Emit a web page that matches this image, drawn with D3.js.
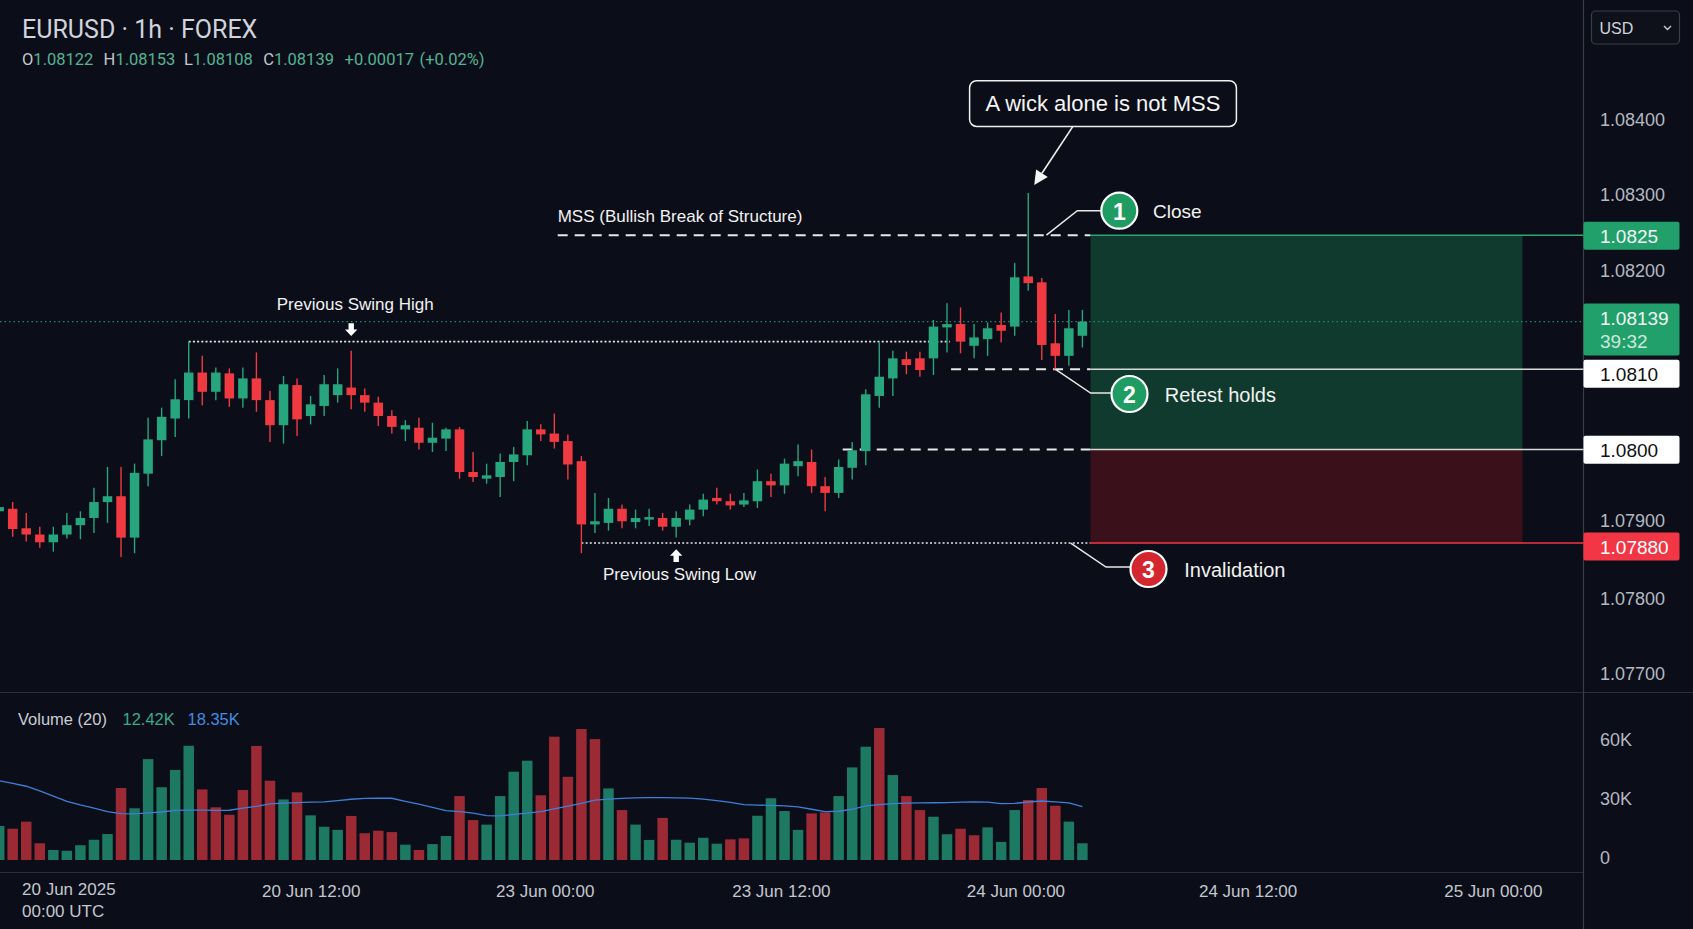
<!DOCTYPE html>
<html><head><meta charset="utf-8">
<script src="https://cdn.jsdelivr.net/npm/d3@7"></script>
<style>html,body{margin:0;padding:0;background:#0b0e18;overflow:hidden}</style>
</head><body>
<svg id="c" width="1693" height="929"></svg>
<script>
// ---------------- DATA ----------------
const opens  = [1.07912,1.07915,1.07891,1.07883,1.07873,1.07883,1.07895,1.07904,1.07923,1.07930,
 1.07879,1.07957,1.07997,1.08023,1.08045,1.08078,1.08055,1.08077,1.08047,1.08071,
 1.08045,1.08015,1.08063,1.08026,1.08038,1.08051,1.08060,1.08051,1.08042,1.08026,
 1.08010,1.08012,1.07994,1.07999,1.08010,1.07959,1.07951,1.07953,1.07971,1.07979,
 1.08010,1.08005,1.07996,1.07972,1.07896,1.07898,1.07915,1.07899,1.07902,1.07904,
 1.07893,1.07902,1.07914,1.07928,1.07924,1.07920,1.07924,1.07948,1.07943,1.07966,
 1.07971,1.07942,1.07934,1.07964,1.07984,1.08050,1.08071,1.08094,1.08095,1.08095,
 1.08132,1.08136,1.08110,1.08118,1.08135,1.08133,1.08193,1.08186,1.08113,1.08098,1.08122];
const highs  = [1.07937,1.07923,1.07910,1.07893,1.07893,1.07910,1.07912,1.07940,1.07965,1.07965,
 1.07969,1.08024,1.08036,1.08070,1.08115,1.08098,1.08084,1.08083,1.08084,1.08102,
 1.08056,1.08074,1.08071,1.08050,1.08075,1.08083,1.08104,1.08059,1.08049,1.08033,
 1.08021,1.08024,1.08018,1.08012,1.08013,1.07983,1.07969,1.07981,1.07989,1.08020,
 1.08016,1.08029,1.08004,1.07978,1.07934,1.07928,1.07920,1.07914,1.07915,1.07910,
 1.07912,1.07920,1.07933,1.07940,1.07933,1.07934,1.07962,1.07957,1.07975,1.07992,
 1.07986,1.07953,1.07974,1.07995,1.08058,1.08114,1.08104,1.08103,1.08103,1.08141,
 1.08161,1.08156,1.08136,1.08138,1.08150,1.08210,1.08303,1.08191,1.08148,1.08153,1.08153];
const lows   = [1.07902,1.07880,1.07874,1.07866,1.07861,1.07878,1.07877,1.07885,1.07898,1.07854,
 1.07859,1.07942,1.07978,1.08001,1.08023,1.08039,1.08045,1.08037,1.08036,1.08031,
 1.07995,1.07993,1.08002,1.08016,1.08026,1.08042,1.08034,1.08031,1.08014,1.08005,
 1.07996,1.07986,1.07983,1.07984,1.07951,1.07947,1.07945,1.07929,1.07948,1.07967,
 1.07996,1.07987,1.07950,1.07859,1.07885,1.07888,1.07891,1.07891,1.07894,1.07888,
 1.07879,1.07895,1.07906,1.07920,1.07914,1.07917,1.07916,1.07929,1.07933,1.07954,
 1.07934,1.07912,1.07928,1.07950,1.07967,1.08036,1.08050,1.08076,1.08073,1.08075,
 1.08102,1.08101,1.08095,1.08098,1.08114,1.08122,1.08176,1.08093,1.08081,1.08086,1.08108];
const closes = [1.07917,1.07890,1.07883,1.07873,1.07883,1.07895,1.07904,1.07923,1.07930,1.07879,
 1.07958,1.07998,1.08025,1.08046,1.08078,1.08055,1.08078,1.08047,1.08071,1.08045,
 1.08015,1.08064,1.08022,1.08040,1.08064,1.08064,1.08051,1.08042,1.08026,1.08013,
 1.08015,1.07994,1.08000,1.08010,1.07959,1.07953,1.07955,1.07971,1.07980,1.08010,
 1.08004,1.07995,1.07968,1.07896,1.07900,1.07915,1.07900,1.07904,1.07905,1.07893,
 1.07904,1.07914,1.07926,1.07924,1.07919,1.07925,1.07948,1.07943,1.07969,1.07972,
 1.07942,1.07934,1.07965,1.07985,1.08052,1.08073,1.08095,1.08087,1.08081,1.08133,
 1.08136,1.08115,1.08120,1.08131,1.08128,1.08192,1.08185,1.08111,1.08098,1.08131,1.08139];
// volume in thousands
const volumes = [17.3,15.9,19.5,8.5,5.1,4.7,7.5,10.3,13.2,36.6,
 26.3,51.3,37.0,45.8,58.1,35.9,26.8,23.0,35.6,58.0,
 40.3,30.8,34.4,22.7,16.9,15.3,22.4,13.6,14.9,14.2,
 7.8,5.1,8.1,12.2,32.5,20.3,18.0,32.5,44.9,50.5,
 32.9,62.7,42.3,66.6,61.5,36.4,25.4,18.0,10.2,21.4,
 10.3,8.8,11.3,8.3,10.5,11.0,22.5,31.4,24.9,15.3,
 23.7,24.2,32.5,47.1,57.6,67.1,43.2,32.5,25.4,22.0,
 13.1,15.9,12.6,16.6,9.2,25.4,30.5,36.6,27.6,19.5,8.5];
const volumeUp = [1,0,0,0,1,1,1,1,1,0, 1,1,1,1,1,0,0,0,0,0, 0,1,0,1,1,1,0,0,0,0,
 1,0,1,1,0,0,1,1,1,1, 0,0,0,0,0,1,0,1,1,0, 1,1,1,1,0,0,1,1,1,1,
 0,0,1,1,1,0,1,0,0,1, 1,0,0,1,1,1,0,0,0,1,1];
const volumeMA = [40.3,39,37.5,35.2,32.5,29.8,28,26.4,24.6,23.6,
 23.5,24,24.4,25.2,25.4,25.4,25.2,25.3,26.4,27.3,
 28.5,28.9,29.2,29.4,29.6,30.2,30.9,31.3,31.4,31.4,
 29.8,28.4,26.8,25.1,24.6,23.8,22.6,22.4,23.2,23.8,
 24.6,26,27.4,28.8,30.4,31,31.3,31.6,31.7,31.7,
 31.6,31.5,31,30.2,29.3,28.2,27.9,27.8,27.5,27,
 25.8,24.6,24.8,25.8,27.5,28.2,28.7,28.9,29,29.1,
 29.2,29.4,29.6,29.4,28.7,28.8,29.5,30,29.6,29.1,27.2];

const priceTicks = [1.084,1.083,1.082,1.079,1.078,1.077];
const volumeTicks = [60,30,0];
const volumeTickLabels = ["60K","30K","0"];
const timeTickIndex = [23.05,40.33,57.77,75.09,92.24,110.35];
const timeTickLabels = ["20 Jun 12:00","23 Jun 00:00","23 Jun 12:00","24 Jun 00:00","24 Jun 12:00","25 Jun 00:00"];
const firstTimeLabel = ["20 Jun 2025","00:00 UTC"];

// structure levels
const levelValues = [1.08247,1.08082,1.07986,1.07872];
const levelLabels = ["1.0825","1.0810","1.0800","1.07880"];
const levelStartIndex = [41.25,70.3,62.3,43];
const zoneIndex = [80.6,112.5];
const swingHighIndex = 14, swingHighEnd = 70.2, swingHighMarker = 26;
const swingLowMarker = 50;
const wickIndex = 76;
const stepNames = ["Close","Retest holds","Invalidation"];
const countdown = "39:32";

// ---------------- DRAW ----------------
const W = 1693, H = 929, AX = 1583.5;
const F = "'Liberation Sans', Arial, sans-serif";
const FR = "Roboto, 'Liberation Sans', sans-serif";
const UP = '#27a57c', DN = '#f03a42', BG = '#0b0e18';
const svg = d3.select('#c');
svg.append('rect').attr('width',W).attr('height',H).attr('fill',BG);

const x = d3.scaleLinear().domain([0,80]).range([-0.84,1082.4]);
const y = d3.scaleLinear().domain([1.077,1.078,1.079,1.082,1.083,1.084])
  .range([674.4,599,521.3,270.6,195.2,119.8]);
const yv = d3.scaleLinear().domain([0,60]).range([860,742]);

const n = opens.length;
const candles = d3.range(n).map(i=>({i,o:opens[i],h:highs[i],l:lows[i],c:closes[i]}));
const last = candles[n-1];

// pane separators
svg.append('line').attr('x1',0).attr('x2',W).attr('y1',692.5).attr('y2',692.5).attr('stroke','#2c303b').attr('stroke-width',1.2);
svg.append('line').attr('x1',0).attr('x2',AX).attr('y1',872.5).attr('y2',872.5).attr('stroke','#2c303b').attr('stroke-width',1.2);
svg.append('line').attr('x1',AX).attr('x2',AX).attr('y1',0).attr('y2',H).attr('stroke','#3a3e49').attr('stroke-width',1.2);

// zones
const zx0 = x(zoneIndex[0]), zx1 = x(zoneIndex[1]);
svg.append('rect').attr('x',zx0).attr('width',zx1-zx0).attr('y',y(levelValues[0]))
  .attr('height',y(levelValues[2])-y(levelValues[0])).attr('fill','#0f3a2d');
svg.append('rect').attr('x',zx0).attr('width',zx1-zx0).attr('y',y(levelValues[2]))
  .attr('height',y(levelValues[3])-y(levelValues[2])).attr('fill','#3a111a');

// current price dotted line
svg.append('line').attr('x1',0).attr('x2',AX).attr('y1',y(last.c)).attr('y2',y(last.c))
  .attr('stroke','#1f8c70').attr('stroke-width',1.2).attr('stroke-dasharray','1.5,3');

// swing high dotted line
svg.append('line').attr('x1',x(swingHighIndex)).attr('x2',x(swingHighEnd))
  .attr('y1',y(highs[swingHighIndex])).attr('y2',y(highs[swingHighIndex]))
  .attr('stroke','#e6e6e6').attr('stroke-width',1.6).attr('stroke-dasharray','2,2.2');

// level lines: dashed/dotted portion + solid portion to axis
const solidColors = ['#2aa673','#d9d9d9','#d9d9d9','#f23645'];
levelValues.forEach((v,k)=>{
  const yy = y(v);
  svg.append('line').attr('x1',x(levelStartIndex[k])).attr('x2',zx0).attr('y1',yy).attr('y2',yy)
    .attr('stroke','#e8e8e8').attr('stroke-width',k===3?1.6:2)
    .attr('stroke-dasharray',k===3?'2,2.2':'10,7');
  svg.append('line').attr('x1',zx0).attr('x2',AX).attr('y1',yy).attr('y2',yy)
    .attr('stroke',solidColors[k]).attr('stroke-width',1.5);
});

// candles
const cg = svg.append('g');
cg.selectAll('line').data(candles).join('line')
  .attr('x1',d=>x(d.i)).attr('x2',d=>x(d.i)).attr('y1',d=>y(d.h)).attr('y2',d=>y(d.l))
  .attr('stroke',d=>d.i===wickIndex?UP:(d.c>=d.o?UP:DN)).attr('stroke-width',1.4);
cg.selectAll('rect').data(candles).join('rect')
  .attr('x',d=>x(d.i)-4.75).attr('width',9.5)
  .attr('y',d=>y(Math.max(d.o,d.c)))
  .attr('height',d=>Math.max(1.5,Math.abs(y(d.o)-y(d.c))))
  .attr('fill',d=>d.c>=d.o?UP:DN);

// volume bars
const vg = svg.append('g');
vg.selectAll('rect').data(volumes).join('rect')
  .attr('x',(v,i)=>x(i)-5.25).attr('width',10.5)
  .attr('y',v=>yv(v)).attr('height',v=>yv(0)-yv(v))
  .attr('fill',(v,i)=>volumeUp[i]?'#1d7962':'#9b2a34');
svg.append('path').datum(volumeMA)
  .attr('d',d3.line().x((v,i)=>x(i)).y(v=>yv(v)))
  .attr('fill','none').attr('stroke','#3f7fd8').attr('stroke-width',1.3);

// ---------- annotations ----------
const txt = (xx,yy,s,size,fill,anchor,fam)=>svg.append('text').attr('x',xx).attr('y',yy)
  .attr('font-family',fam||F).attr('font-size',size).attr('fill',fill)
  .attr('text-anchor',anchor||'start').text(s);

txt(x(levelStartIndex[0]),221.5,'MSS (Bullish Break of Structure)',17,'#f2f2f2');

// Previous swing high
const shx = x(swingHighMarker);
txt(shx+4,310,'Previous Swing High',17,'#f2f2f2','middle');
svg.append('path').attr('fill','#ffffff').attr('d',
  `M${shx-2.7},323.3L${shx+2.7},323.3L${shx+2.7},329.5L${shx+6.2},329.5L${shx},336L${shx-6.2},329.5L${shx-2.7},329.5Z`);
// Previous swing low
const slx = x(swingLowMarker);
txt(slx+3.3,580,'Previous Swing Low',17,'#f2f2f2','middle');
svg.append('path').attr('fill','#ffffff').attr('d',
  `M${slx-2.7},562L${slx+2.7},562L${slx+2.7},555.8L${slx+6.2},555.8L${slx},549.3L${slx-6.2},555.8L${slx-2.7},555.8Z`);

// callout
svg.append('rect').attr('x',969.6).attr('y',80.7).attr('width',266.8).attr('height',45.7).attr('rx',7)
  .attr('fill',BG).attr('stroke','#f0f0f0').attr('stroke-width',1.5);
txt(1103,103.5,'A wick alone is not MSS',22,'#f5f5f5','middle').attr('dominant-baseline','central');
{
  const x1=1072.9,y1=126.4, x2=x(wickIndex)+6, y2=y(highs[wickIndex])-8;
  const a=Math.atan2(y2-y1,x2-x1), len=14, hw=7;
  const bx=x2-len*Math.cos(a), by=y2-len*Math.sin(a);
  const px=-Math.sin(a)*hw, py=Math.cos(a)*hw;
  svg.append('line').attr('x1',x1).attr('y1',y1).attr('x2',bx).attr('y2',by).attr('stroke','#f0f0f0').attr('stroke-width',1.6);
  svg.append('path').attr('d',`M${x2},${y2}L${bx+px},${by+py}L${bx-px},${by-py}Z`).attr('fill','#f5f5f5');
}

// numbered steps
const steps = [
  {cx:1119.3,cy:210.7,fill:'#1f9c62',pts:[[1046.4,y(levelValues[0])],[1077.3,210.7],[1100.7,210.7]],tx:1153},
  {cx:1129.5,cy:394,fill:'#1f9c62',pts:[[1055.2,y(levelValues[1])],[1090.6,393],[1111,393]],tx:1164.8},
  {cx:1148.5,cy:569,fill:'#d4262e',pts:[[1070.7,y(levelValues[3])],[1106,567],[1130,567]],tx:1184.3}
];
steps.forEach((s,k)=>{
  svg.append('polyline').attr('points',s.pts.map(p=>p.join(',')).join(' '))
    .attr('fill','none').attr('stroke','#e8e8e8').attr('stroke-width',1.5);
  svg.append('circle').attr('cx',s.cx).attr('cy',s.cy).attr('r',18).attr('fill',s.fill)
    .attr('stroke','#ffffff').attr('stroke-width',2.2);
  txt(s.cx,s.cy+1,String(k+1),23,'#ffffff','middle').attr('font-weight','bold').attr('dominant-baseline','central');
  txt(s.tx,s.cy+1,stepNames[k],k===0?19:20,'#f2f2f2').attr('dominant-baseline','central');
});

// ---------- price axis ----------
priceTicks.forEach(v=>{
  txt(1600,y(v),v.toFixed(5),18,'#b4b8c1').attr('dominant-baseline','central');
});
const boxFill = ['#22a06c','#ffffff','#ffffff','#f23645'];
const boxText = ['#f4f4f4','#111111','#111111','#ffffff'];
const boxNudge = [0.6,4.6,0.4,3.5];
levelValues.forEach((v,k)=>{
  const cy = y(v)+boxNudge[k];
  svg.append('rect').attr('x',AX).attr('y',cy-14).attr('width',96).attr('height',28).attr('rx',2).attr('fill',boxFill[k]);
  txt(1600,cy+0.5,levelLabels[k],19,boxText[k]).attr('dominant-baseline','central');
});
{
  const cy = y(last.c);
  svg.append('rect').attr('x',AX).attr('y',cy-18).attr('width',96).attr('height',52).attr('rx',2).attr('fill','#22a06c');
  txt(1600,cy-3.5,last.c.toFixed(5),19,'#f4f4f4').attr('dominant-baseline','central');
  txt(1600,cy+20,countdown,19,'#cde8dc').attr('dominant-baseline','central');
}
// volume axis
volumeTicks.forEach((v,k)=>{
  txt(1600,yv(v)-2.5,volumeTickLabels[k],18,'#b4b8c1').attr('dominant-baseline','central');
});

// USD button
svg.append('rect').attr('x',1591.5).attr('y',11).attr('width',88).attr('height',33).attr('rx',4)
  .attr('fill','#0e1119').attr('stroke','#3a3e49').attr('stroke-width',1.2);
txt(1599.5,28,'USD',16,'#d1d4dc').attr('dominant-baseline','central');
svg.append('polyline').attr('points','1664,26 1667.5,29.5 1671,26').attr('fill','none')
  .attr('stroke','#c8ccd4').attr('stroke-width',1.4);

// ---------- time axis ----------
timeTickIndex.forEach((t,k)=>{
  txt(x(t),897,timeTickLabels[k],17,'#c3c7cf','middle');
});
txt(22,895,firstTimeLabel[0],17,'#c3c7cf');
txt(22,916.5,firstTimeLabel[1],17,'#c3c7cf');

// ---------- legends ----------
txt(22,37.5,'EURUSD · 1h · FOREX',25,'#d1d4dc','start',FR);
{
  const chg = last.c - last.o, pct = chg/last.o*100;
  const items = [['O',last.o.toFixed(5),22],['H',last.h.toFixed(5),103.6],['L',last.l.toFixed(5),183.9],['C',last.c.toFixed(5),263.2]];
  items.forEach(([k,v,xx])=>{
    const t = txt(xx,65,'',16.5,'#c3c7cf','start',FR);
    t.append('tspan').text(k);
    t.append('tspan').attr('fill','#54b393').text(v);
  });
  txt(344.6,65,(chg>=0?'+':'')+chg.toFixed(5),16.5,'#54b393','start',FR);
  txt(419.6,65,'('+(pct>=0?'+':'')+pct.toFixed(2)+'%)',16.5,'#54b393','start',FR);
}
txt(18,725,'Volume (20)',16.5,'#c8ccd4');
txt(122.5,725,'12.42K',16.5,'#3aa98a');
txt(187.5,725,'18.35K',16.5,'#3f8fe3');
</script>
</body></html>
